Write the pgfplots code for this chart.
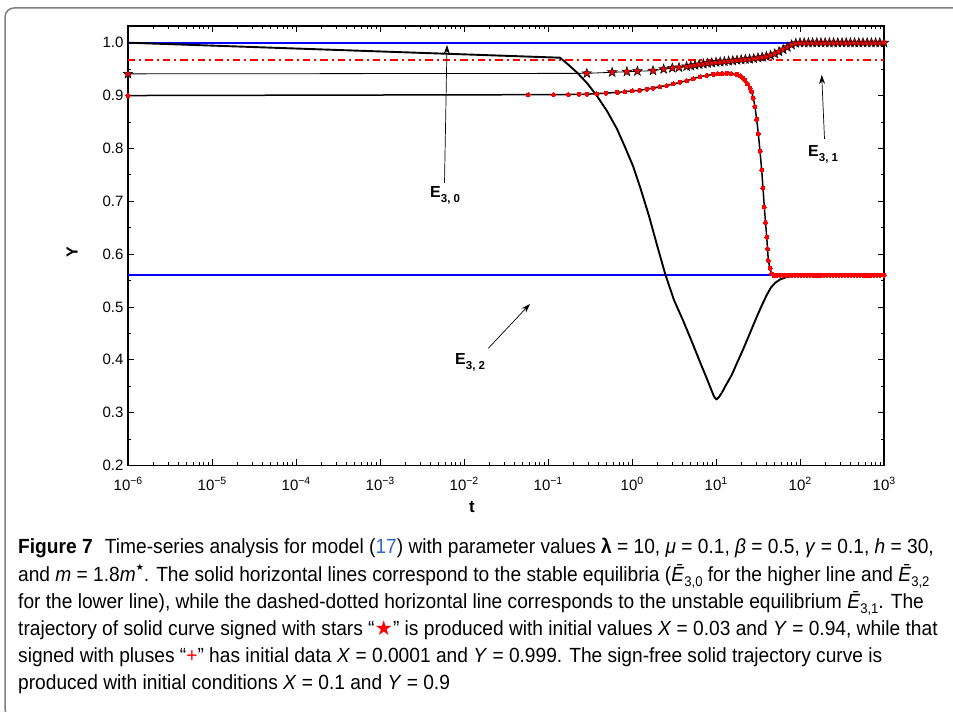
\documentclass[border=0pt]{standalone}
\usepackage{pgfplots}
\pgfplotsset{compat=1.18}
\usepackage{fontspec}
\setmainfont{Liberation Sans}
\newfontfamily\dejavu{DejaVu Sans}
\newfontfamily\capfont[FakeStretch=0.934]{Liberation Sans}
\usetikzlibrary{arrows.meta}
\definecolor{linkblue}{RGB}{51,102,204}
\definecolor{framegray}{RGB}{128,128,128}

\pgfdeclareplotmark{fstar}{%
  \pgfpathmoveto{\pgfpointpolar{90}{\pgfplotmarksize}}%
  \pgfpathlineto{\pgfpointpolar{126}{0.4\pgfplotmarksize}}%
  \pgfpathlineto{\pgfpointpolar{162}{\pgfplotmarksize}}%
  \pgfpathlineto{\pgfpointpolar{198}{0.4\pgfplotmarksize}}%
  \pgfpathlineto{\pgfpointpolar{234}{\pgfplotmarksize}}%
  \pgfpathlineto{\pgfpointpolar{270}{0.4\pgfplotmarksize}}%
  \pgfpathlineto{\pgfpointpolar{306}{\pgfplotmarksize}}%
  \pgfpathlineto{\pgfpointpolar{342}{0.4\pgfplotmarksize}}%
  \pgfpathlineto{\pgfpointpolar{18}{\pgfplotmarksize}}%
  \pgfpathlineto{\pgfpointpolar{54}{0.4\pgfplotmarksize}}%
  \pgfpathclose
  \pgfusepathqfillstroke
}

\newcommand{\ex}[1]{10\raisebox{0.4em}{\fontsize{10.5}{10.5}\selectfont #1}}
\newcommand{\Esub}[1]{E\raisebox{-0.3em}{\fontsize{11.5}{11.5}\selectfont #1}}
\newcommand{\Ebar}[1]{\textit{Ē}\raisebox{-0.25em}{\fontsize{14}{14}\selectfont #1}}

\begin{document}
\begin{tikzpicture}[x=1pt,y=1pt]
\clip (0,0) rectangle (953,712);
\draw[framegray, line width=1.5pt, rounded corners=9pt] (5,-6) rectangle (975,704);
\begin{axis}[
  at={(128pt,246.5pt)}, anchor=south west,
  scale only axis, width=756pt, height=439.5pt,
  xmode=log, xmin=1e-6, xmax=1e3, ymin=0.2, ymax=1.0316,
  xtick={1e-6,1e-5,1e-4,1e-3,1e-2,1e-1,1e0,1e1,1e2,1e3},
  xticklabels={\ex{−6},\ex{−5},\ex{−4},\ex{−3},\ex{−2},\ex{−1},\ex{0},\ex{1},\ex{2},\ex{3}},
  ytick={0.2,0.3,0.4,0.5,0.6,0.7,0.8,0.9,1.0},
  yticklabels={0.2,0.3,0.4,0.5,0.6,0.7,0.8,0.9,1.0},
  minor y tick num=1,
  tick align=inside, major tick length=6pt, minor tick length=3.5pt,
  axis line style={line width=1.2pt},
  every tick/.style={black, line width=0.8pt},
  tick label style={font=\fontsize{15}{17}\selectfont},
  xticklabel style={yshift=-8pt},
  yticklabel style={xshift=-1pt},
  clip=false,
]
\addplot[blue, line width=2pt] coordinates {(1e-6,1.0) (1e3,1.0)};
\addplot[blue, line width=2pt] coordinates {(1e-6,0.56) (1e3,0.56)};
\addplot[red, line width=1.6pt, dash pattern=on 7.5pt off 4pt on 2pt off 4pt] coordinates {(1e-6,0.967) (1e3,0.967)};
% sign-free curve
\addplot[black, line width=1.9pt, line join=round] coordinates {
(1e-6,1.0) (0.1389,0.9716) (0.1683,0.9606) (0.2214,0.9436) (0.2912,0.9237) (0.3831,0.8991)
(0.5040,0.8708) (0.6630,0.8367) (0.8255,0.8026) (1.036,0.7654) (1.280,0.7213) (1.594,0.6721)
(1.984,0.6172) (2.505,0.5604) (3.162,0.5131) (4.080,0.4734) (5.179,0.4337) (6.450,0.3958)
(7.814,0.3637) (8.719,0.3447) (9.467,0.3306) (10.14,0.3249) (10.86,0.3296) (11.79,0.3381)
(13.15,0.3523) (15.38,0.3712) (17.78,0.3939) (21.13,0.4204) (25.40,0.4507) (30.51,0.4810)
(35.29,0.5037) (40.18,0.5226) (45.16,0.5368) (50.40,0.5453) (57.80,0.5519) (68.13,0.5561)
(83.18,0.5586) (131.5,0.5599) (1000,0.560)};
% red-dot curve
\addplot[black, line width=1.5pt, mark=*, mark size=2pt, mark options={red, fill=red, draw=red, line width=0pt}] coordinates {
(1e-6,0.900) (0.0580,0.9016) (0.1163,0.9018) (0.1743,0.9020) (0.2340,0.9022) (0.2900,0.9026)
(0.3800,0.9035) (0.4860,0.9045) (0.6680,0.9060) (0.8200,0.9073) (1.009,0.9086) (1.228,0.9100)
(1.496,0.9120) (1.793,0.9140) (2.153,0.9167) (2.589,0.9190) (3.105,0.9220) (3.727,0.9250)
(4.477,0.9280) (5.368,0.9320) (6.457,0.9357) (7.751,0.9380) (9.290,0.9400) (10.56,0.9412)
(11.79,0.9418) (13.40,0.9420) (15.09,0.9415) (17.60,0.9400) (19.31,0.9370) (20.96,0.9330)
(22.10,0.9290) (23.71,0.9220) (25.40,0.9140) (26.60,0.9070) (27.80,0.8950) (29.10,0.8790)
(30.51,0.8550) (31.90,0.8280) (33.41,0.7950) (35.00,0.7590) (36.26,0.7250) (37.60,0.6890)
(38.85,0.6600) (40.20,0.6320) (41.04,0.6100) (42.00,0.5880) (43.95,0.5730) (46.00,0.5630)
(49.03,0.5595) (53.23,0.5598) (57.80,0.5600) (63.10,0.56) (68.39,0.56) (74.13,0.56)
(80.35,0.56) (87.10,0.56) (94.41,0.56) (102.3,0.56) (110.9,0.56) (120.2,0.56) (130.3,0.56)
(141.3,0.56) (153.1,0.56) (166.0,0.56) (179.9,0.56) (195.0,0.56) (211.3,0.56) (229.1,0.56)
(248.3,0.56) (269.2,0.56) (291.7,0.56) (316.2,0.56) (342.8,0.56) (371.5,0.56) (402.7,0.56)
(436.5,0.56) (473.2,0.56) (512.9,0.56) (555.9,0.56) (602.6,0.56) (653.1,0.56) (707.9,0.56)
(767.4,0.56) (831.8,0.56) (901.6,0.56) (1000,0.56)};
% star curve
\addplot[black, line width=0.8pt, mark=fstar, mark size=5pt, mark options={fill=red, draw=black, line width=0.5pt}] coordinates {
(1e-6,0.941) (0.29,0.942) (0.58,0.944) (0.87,0.945) (1.16,0.946) (1.78,0.947) (2.38,0.950)
(3.02,0.952) (3.63,0.953) (4.467,0.955) (5.012,0.9562) (5.623,0.9575) (6.310,0.9588)
(7.079,0.960) (7.943,0.961) (8.913,0.962) (10,0.963) (11.22,0.9636) (12.59,0.9645)
(14.13,0.9652) (15.85,0.966) (17.78,0.967) (19.95,0.9678) (22.39,0.9685) (25.12,0.969)
(28.18,0.970) (31.62,0.9715) (35.48,0.9727) (39.81,0.974) (44.67,0.976) (50.12,0.979)
(56.23,0.983) (63.10,0.987) (70.79,0.9915) (79.43,0.996) (89.13,0.999) (100,1.0)
(112.2,1.0) (125.9,1.0) (141.3,1.0) (158.5,1.0) (177.8,1.0) (199.5,1.0) (223.9,1.0)
(251.2,1.0) (281.8,1.0) (316.2,1.0) (354.8,1.0) (398.1,1.0) (446.7,1.0) (501.2,1.0)
(562.3,1.0) (631.0,1.0) (707.9,1.0) (794.3,1.0) (891.3,1.0) (1000,1.0)};
\end{axis}

% axis labels
\node[font=\bfseries\fontsize{17}{17}\selectfont] at (472,205) {t};
\node[font=\bfseries\fontsize{16}{16}\selectfont, rotate=90] at (72,460) {Y};

% annotations
\draw[line width=0.7pt, -{Stealth[length=9pt,width=6pt]}] (444.5,529) -- (447,667);
\node[anchor=north west, inner sep=0pt, font=\bfseries\fontsize{16}{16}\selectfont] at (430,526) {\Esub{3, 0}};
\draw[line width=0.7pt, -{Stealth[length=9pt,width=6pt]}] (488.3,363.7) -- (530,408);
\node[anchor=north west, inner sep=0pt, font=\bfseries\fontsize{16}{16}\selectfont] at (455,358.7) {\Esub{3, 2}};
\draw[line width=0.7pt, -{Stealth[length=9pt,width=6pt]}] (824.5,573) -- (821.7,637);
\node[anchor=north west, inner sep=0pt, font=\bfseries\fontsize{16}{16}\selectfont] at (808,567) {\Esub{3, 1}};

% caption
\begin{scope}[every node/.style={anchor=base west, inner sep=0pt, font=\capfont\fontsize{20.5}{22}\selectfont}]
\node at (18,158) {\textbf{Figure 7}\hspace{0.6em}Time-series analysis for model ({\color{linkblue}17}) with parameter values \textbf{λ} = 10, \textit{μ} = 0.1, \textit{β} = 0.5, \textit{γ} = 0.1, \textit{h} = 30,};
\node at (18,130.8) {and \textit{m} = 1.8\textit{m}\raisebox{0.5em}{\dejavu\fontsize{9}{9}\selectfont ★}. The solid horizontal lines correspond to the stable equilibria (\Ebar{3,0} for the higher line and \Ebar{3,2}};
\node at (18,103.6) {for the lower line), while the dashed-dotted horizontal line corresponds to the unstable equilibrium \Ebar{3,1}. The};
\node at (18,76.4) {trajectory of solid curve signed with stars “{\color{red}\dejavu ★}” is produced with initial values \textit{X} = 0.03 and \textit{Y} = 0.94, while that};
\node at (18,49.2) {signed with pluses “{\color{red}+}” has initial data \textit{X} = 0.0001 and \textit{Y} = 0.999. The sign-free solid trajectory curve is};
\node at (18,22) {produced with initial conditions \textit{X} = 0.1 and \textit{Y} = 0.9};
\end{scope}
\end{tikzpicture}
\end{document}
